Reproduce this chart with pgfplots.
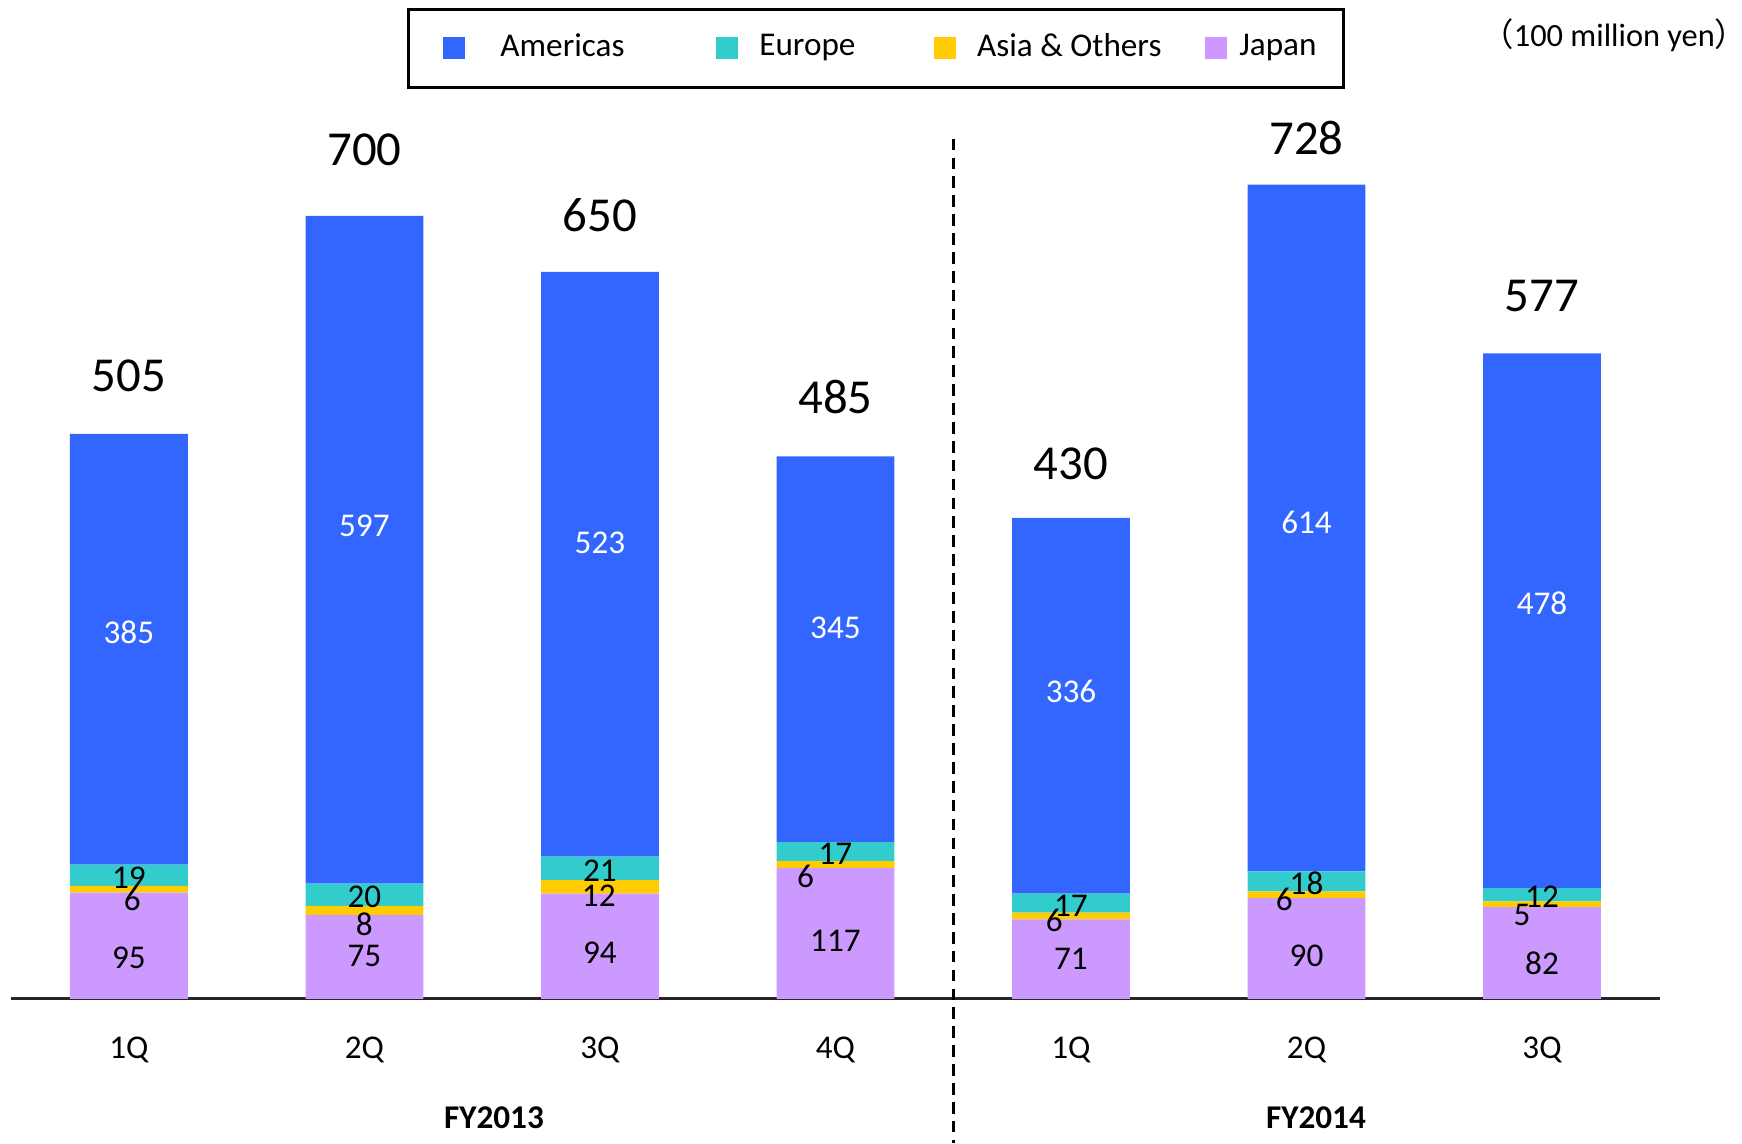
\documentclass[border=0pt]{standalone}
\usepackage{pgfplots}
\usepackage{pgfplotstable}
\usepackage{fontspec}
\setmainfont{Carlito}
\newfontfamily\cjk{Noto Sans CJK JP}
\pgfplotsset{compat=1.18}

\definecolor{amer}{HTML}{3366FF}
\definecolor{euro}{HTML}{33CCCC}
\definecolor{asia}{HTML}{FFCC00}
\definecolor{japan}{HTML}{CC99FF}

% Net sales by region (100 million yen).
% jdy, sdy, ady, tdy: vertical nudges of the Japan, Asia, Americas and total labels (y units);
% adx: horizontal nudge of the Asia label (mm)
\pgfplotstableread{
x japan asia europe americas total jdy sdy ady tdy adx
0 95  6  19 385 505 -11  -9 15 52  0.3
1 75  8  20 597 700   1 -12 21 59  0
2 94  12 21 523 650  -6  -8 19 51 -0.1
3 117 6  17 345 485  -7 -11 19 53 -2.7
4 71  6  17 336 430   0  -4 13 48 -1.5
5 90  6  18 614 728  -7  -4  5 42 -2.0
6 82  5  12 478 577  -9 -10 16 51 -1.8
}\sales

\newcommand{\lbl}{\fontsize{8.5}{10}\selectfont}
\newcommand{\totfont}{\fontsize{12.5}{14}\selectfont}
\def\yu{0.10067mm}

\begin{document}
\begin{tikzpicture}
\useasboundingbox (-1mm,-13mm) rectangle (155.8mm,89.9mm);
\begin{axis}[
  scale only axis,
  width=148.4mm, height=89.9mm,
  xmin=-0.5, xmax=6.5, ymin=0, ymax=893,
  ybar stacked, bar width=10.6mm,
  clip=false,
  axis x line*=bottom, axis y line=none,
  axis line style={-, line width=0.75pt, black!85},
  xtick={0,...,6},
  xticklabels={1Q,2Q,3Q,4Q,1Q,2Q,3Q},
  major tick length=0pt,
  xtick style={draw=none},
  xticklabel style={font=\lbl, anchor=center, yshift=-4.6mm},
  /pgf/number format/assume math mode=true,
  legend columns=4,
  reverse legend,
  legend cell align=left,
  legend image code/.code={\path (0mm,0mm); \fill[#1] (0.5mm,-1mm) rectangle (2.5mm,1mm);},
  legend style={at={(0.5246,0.992)}, anchor=north, draw=black, line width=0.7pt,
    inner xsep=2.6mm, inner ysep=2.2mm, font=\lbl,
    /tikz/column sep=0pt, nodes={inner sep=0pt}},
]
% segment labels sit at the middle of each segment
\addplot[fill=japan, draw=none,
  nodes near coords, point meta=explicit,
  visualization depends on={\thisrow{jdy} \as \jdy},
  every node near coord/.append style={font=\lbl, text=black, anchor=center,
    yshift={\jdy*\yu}}]
  table[x=x, y=japan, meta=japan] {\sales};
\addlegendentry{\hspace{1.1mm}\makebox[6.8mm][l]{Japan}}
\addplot[fill=asia, draw=none,
  nodes near coords, point meta=explicit,
  visualization depends on={\thisrow{sdy} \as \sdy},
  visualization depends on={\thisrow{adx} \as \adx},
  every node near coord/.append style={font=\lbl, text=black, anchor=center,
    yshift={\sdy*\yu}, xshift={\adx*1mm}}]
  table[x=x, y=asia, meta=asia] {\sales};
\addlegendentry{\hspace{1.9mm}\makebox[20mm][l]{Asia \& Others}}
\addplot[fill=euro, draw=none,
  nodes near coords, point meta=explicit,
  every node near coord/.append style={font=\lbl, text=black, anchor=center,
    yshift={-2*\yu}}]
  table[x=x, y=europe, meta=europe] {\sales};
\addlegendentry{\hspace{1.9mm}\makebox[15.2mm][l]{Europe}}
\addplot[fill=amer, draw=none,
  nodes near coords, point meta=explicit,
  visualization depends on={\thisrow{ady} \as \ady},
  every node near coord/.append style={font=\lbl, text=white, anchor=center,
    yshift={\ady*\yu}}]
  table[x=x, y=americas, meta=americas] {\sales};
\addlegendentry{\hspace{3.2mm}\makebox[18.9mm][l]{Americas}}
% quarter totals written above each stack
\addplot[draw=none, fill=none, forget plot,
  nodes near coords, point meta=explicit,
  visualization depends on={\thisrow{tdy} \as \tdy},
  every node near coord/.append style={font=\totfont, text=black, anchor=center,
    yshift={\tdy*\yu}}]
  table[x=x, y expr=0.001, meta=total] {\sales};

\draw[black, line width=0.8pt, dash pattern=on 1.05mm off 0.65mm]
  (axis cs:3.5,769) -- (axis cs:3.5,-129);
\node[font=\lbl\bfseries] at (axis cs:1.55,-106) {FY2013};
\node[font=\lbl\bfseries] at (axis cs:5.04,-106) {FY2014};
\end{axis}
\node[anchor=east, inner sep=0pt, font=\fontsize{8.3}{10}\selectfont] at (154.6mm,86.7mm)
  {{\cjk （}100 million yen\makebox[0.4em][l]{\cjk ）}};
\end{tikzpicture}
\end{document}
